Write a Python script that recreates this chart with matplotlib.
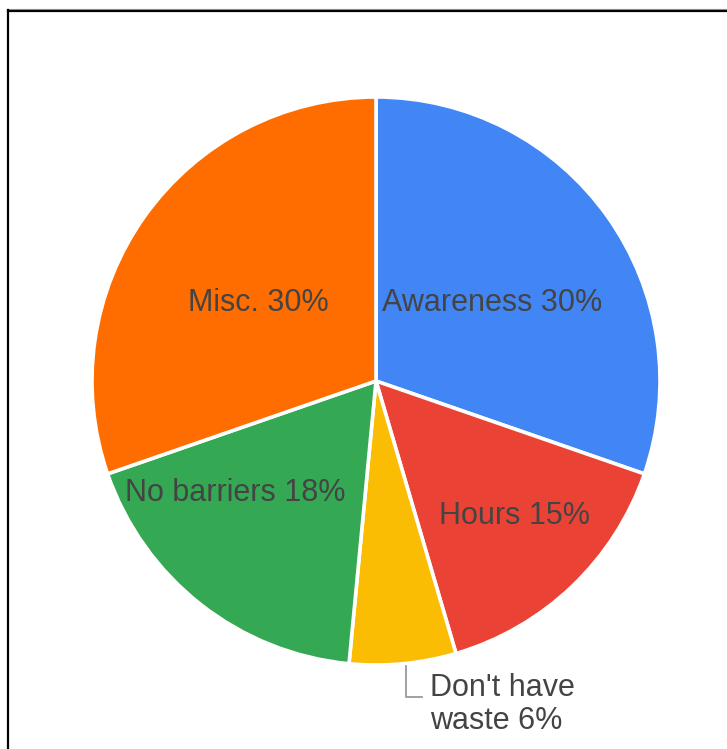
import matplotlib.pyplot as plt
from matplotlib.lines import Line2D

plt.rcParams['font.family'] = ['Liberation Sans', 'DejaVu Sans']

categories = ["Awareness", "Hours", "Don't have\nwaste", "No barriers", "Misc."]
counts = [10, 5, 2, 6, 10]
colors = ["#4285F4", "#EA4335", "#FBBC04", "#34A853", "#FF6D01"]

total = float(sum(counts))
labels = ["%s %d%%" % (c, round(100 * v / total)) for c, v in zip(categories, counts)]

# where each label sits, in units of the pie radius
label_pos = [(0.408, 0.275), (0.489, -0.475), (0.190, -1.14), (-0.496, -0.395), (-0.415, 0.275)]

W, H = 727, 749
fig = plt.figure(figsize=(W / 100, H / 100), dpi=100)
ax = fig.add_axes([92 / W, (H - 665) / H, 568 / W, 568 / H])

ax.pie(counts, colors=colors, startangle=90, counterclock=False,
       wedgeprops=dict(edgecolor="white", linewidth=2.6))
ax.set_xlim(-1, 1)
ax.set_ylim(-1, 1)
ax.set_aspect("equal")
ax.axis("off")

text_color = "#444444"
for i, (lab, (x, y)) in enumerate(zip(labels, label_pos)):
    if i == 2:
        # small slice: label outside with leader line
        ax.text(x, y, lab, ha="left", va="center", fontsize=22, color=text_color,
                linespacing=1.15, clip_on=False)
        ax.add_line(Line2D([0.106, 0.106, 0.162], [-1.005, -1.112, -1.112],
                           color="#999999", lw=1.3, clip_on=False))
    else:
        ax.text(x, y, lab, ha="center", va="center", fontsize=22, color=text_color)

# frame lines along the top and left edges
px = fig.transFigure.inverted()
def fig_xy(xp, yp):
    return px.transform((xp, H - yp))

(x0, y0), (x1, y1) = fig_xy(7.5, 10.5), fig_xy(W, 10.5)
fig.add_artist(Line2D([x0, x1], [y0, y1], color="black", lw=1.6))
(x0, y0), (x1, y1) = fig_xy(7.5, 9), fig_xy(W, 9)
fig.add_artist(Line2D([x0, x1], [y0, y1], color="#888888", lw=0.8))
(x0, y0), (x1, y1) = fig_xy(7.5, 10), fig_xy(7.5, H)
fig.add_artist(Line2D([x0, x1], [y0, y1], color="black", lw=1.6))

fig.savefig("out.png", dpi=100)
